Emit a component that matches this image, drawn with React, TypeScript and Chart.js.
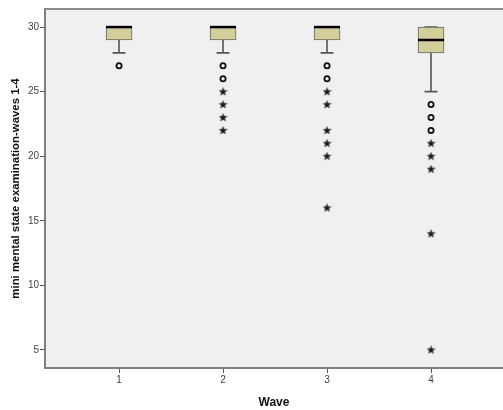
import React, { useEffect, useRef } from "react";
import { Chart, registerables } from "chart.js";

Chart.register(...registerables);

const waves = [1, 2, 3, 4];
const q1 = [29, 29, 29, 28];
const medians = [30, 30, 30, 29];
const q3 = [30, 30, 30, 30];
const whiskerLow = [28, 28, 28, 25];
const whiskerHigh = [30, 30, 30, 30];
const circleOutliers = [[27], [27, 26], [27, 26], [24, 23, 22]];
const starOutliers = [[], [25, 24, 23, 22], [25, 24, 22, 21, 20, 16], [21, 20, 19, 14, 5]];
const yTicks = [5, 10, 15, 20, 25, 30];

const FONT = "'Liberation Sans', Arial, sans-serif";
const BOX_W = 26;
const CAP_W = 13;

function makeStar(): HTMLCanvasElement {
  const c = document.createElement("canvas");
  c.width = 9;
  c.height = 9;
  const g = c.getContext("2d")!;
  const cx = 4.5, cy = 4.7, ro = 4.2, ri = 1.8;
  g.beginPath();
  for (let k = 0; k < 10; k++) {
    const r = k % 2 === 0 ? ro : ri;
    const a = -Math.PI / 2 + (k * Math.PI) / 5;
    const px = cx + r * Math.cos(a);
    const py = cy + r * Math.sin(a);
    if (k === 0) g.moveTo(px, py);
    else g.lineTo(px, py);
  }
  g.closePath();
  g.fillStyle = "#1a1a1a";
  g.fill();
  g.strokeStyle = "rgba(30,30,30,0.6)";
  g.lineWidth = 0.6;
  g.stroke();
  return c;
}

const boxParts = {
  id: "boxParts",
  beforeDraw(chart: any) {
    const { ctx, chartArea } = chart;
    ctx.save();
    ctx.fillStyle = "#f0f0f0";
    ctx.fillRect(chartArea.left, chartArea.top, chartArea.right - chartArea.left, chartArea.bottom - chartArea.top);
    ctx.restore();
  },
  beforeDatasetsDraw(chart: any) {
    const { ctx } = chart;
    const xs = chart.scales.x;
    const ys = chart.scales.y;
    ctx.save();
    ctx.strokeStyle = "#555555";
    ctx.lineWidth = 1.6;
    waves.forEach((w, i) => {
      const x = Math.round(xs.getPixelForValue(w));
      const yl = ys.getPixelForValue(whiskerLow[i]);
      const yq1 = ys.getPixelForValue(q1[i]);
      const yh = ys.getPixelForValue(whiskerHigh[i]);
      const yq3 = ys.getPixelForValue(q3[i]);
      ctx.beginPath();
      ctx.moveTo(x, yq1);
      ctx.lineTo(x, yl);
      ctx.moveTo(x - CAP_W / 2, yl);
      ctx.lineTo(x + CAP_W / 2, yl);
      ctx.moveTo(x, yq3);
      ctx.lineTo(x, yh);
      ctx.moveTo(x - CAP_W / 2, yh);
      ctx.lineTo(x + CAP_W / 2, yh);
      ctx.stroke();
    });
    ctx.restore();
  },
  afterDatasetsDraw(chart: any) {
    const { ctx } = chart;
    const xs = chart.scales.x;
    const ys = chart.scales.y;
    ctx.save();
    ctx.strokeStyle = "#000000";
    ctx.lineWidth = 2.5;
    waves.forEach((w, i) => {
      const x = Math.round(xs.getPixelForValue(w));
      const y = ys.getPixelForValue(medians[i]);
      ctx.beginPath();
      ctx.moveTo(x - BOX_W / 2, y);
      ctx.lineTo(x + BOX_W / 2, y);
      ctx.stroke();
    });
    ctx.restore();
  },
  afterDraw(chart: any) {
    const { ctx, chartArea } = chart;
    ctx.save();
    ctx.strokeStyle = "#8a8a8a";
    ctx.lineWidth = 2;
    ctx.beginPath();
    ctx.moveTo(chartArea.left, chartArea.top);
    ctx.lineTo(chart.width, chartArea.top);
    ctx.stroke();
    ctx.restore();
  },
};

export default function App() {
  const ref = useRef<HTMLCanvasElement>(null);
  useEffect(() => {
    if (!ref.current) return;
    const circles: any[] = [];
    const stars: any[] = [];
    waves.forEach((w, i) => {
      circleOutliers[i].forEach((v) => circles.push({ x: w, y: v }));
      starOutliers[i].forEach((v) => stars.push({ x: w, y: v }));
    });
    const starImg = makeStar();
    const chart = new Chart(ref.current, {
      type: "bar",
      data: {
        datasets: [
          {
            type: "bar",
            data: waves.map((w, i) => ({ x: w, y: [q1[i], q3[i]] })) as any,
            backgroundColor: "#d3ce9a",
            borderColor: "#666666",
            borderWidth: 1,
            borderSkipped: false,
            barThickness: BOX_W,
          } as any,
          {
            type: "scatter",
            data: circles,
            pointStyle: "circle",
            pointRadius: 2.6,
            pointBorderWidth: 1.8,
            pointBorderColor: "#111111",
            pointBackgroundColor: "rgba(0,0,0,0)",
          } as any,
          {
            type: "scatter",
            data: stars,
            pointStyle: starImg,
            pointRadius: 4,
          } as any,
        ],
      },
      options: {
        responsive: false,
        animation: false,
        events: [],
        layout: { autoPadding: false, padding: { top: 9, right: 0, left: 0, bottom: 0 } },
        plugins: { legend: { display: false }, tooltip: { enabled: false } },
        scales: {
          x: {
            type: "linear",
            offset: false,
            min: 0.288,
            max: 4.692,
            afterBuildTicks: (axis: any) => {
              axis.ticks = waves.map((v) => ({ value: v }));
            },
            afterFit: (axis: any) => {
              axis.height = 42;
              axis.paddingLeft = 0;
              axis.paddingRight = 0;
            },
            grid: { offset: false, drawOnChartArea: false, drawTicks: true, tickLength: 5, color: "#555555", lineWidth: 1 },
            border: { display: true, color: "#808080", width: 2 },
            ticks: { color: "#444444", font: { family: FONT, size: 10 }, padding: 1, autoSkip: false, maxRotation: 0 },
            title: { display: true, text: "Wave", color: "#111111", font: { family: FONT, size: 12, weight: "bold" }, padding: { top: 3, bottom: 0 } },
          },
          y: {
            type: "linear",
            min: 3.6,
            max: 31.4,
            afterBuildTicks: (axis: any) => {
              axis.ticks = yTicks.map((v) => ({ value: v }));
            },
            afterFit: (axis: any) => {
              axis.width = 45;
              axis.paddingTop = 0;
              axis.paddingBottom = 0;
            },
            grid: { drawOnChartArea: false, drawTicks: true, tickLength: 5, color: "#555555", lineWidth: 1 },
            border: { display: true, color: "#808080", width: 2 },
            ticks: { color: "#444444", font: { family: FONT, size: 10 }, padding: 1 },
            title: { display: true, text: "mini mental state examination-waves 1-4", color: "#111111", font: { family: FONT, size: 11.4, weight: "bold" }, padding: { top: 9, bottom: 0 } },
          },
        },
      } as any,
      plugins: [boxParts],
    });
    return () => chart.destroy();
  }, []);
  return (
    <div style={{ position: "fixed", left: 0, top: 0, width: 503, height: 410, background: "#ffffff" }}>
      <canvas ref={ref} width={503} height={410} style={{ display: "block" }} />
    </div>
  );
}
